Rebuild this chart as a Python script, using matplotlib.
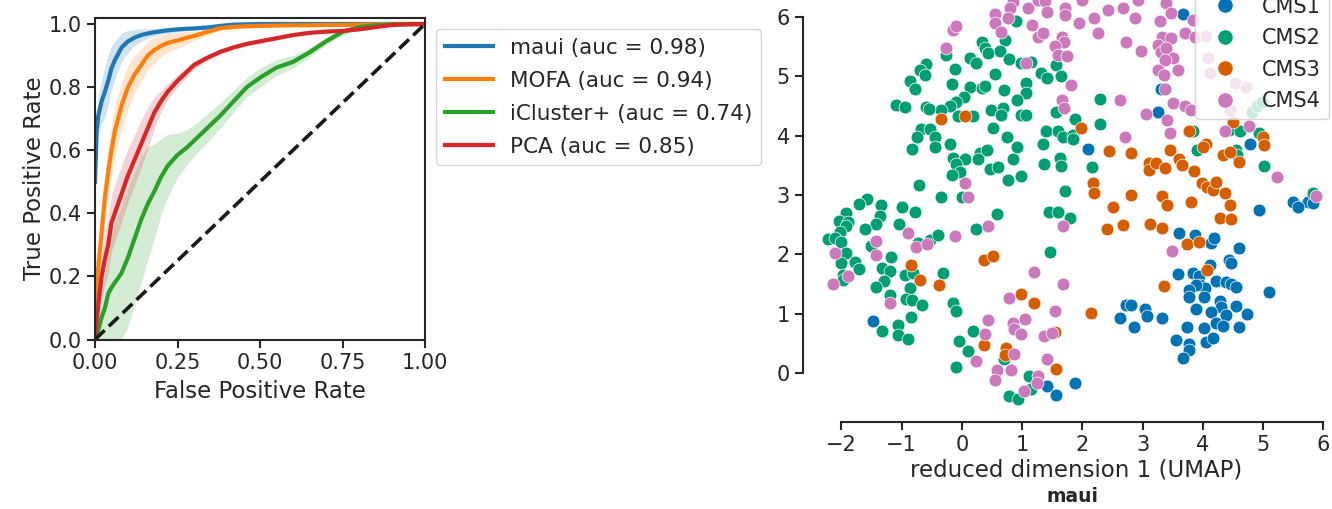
import matplotlib
matplotlib.use('Agg')
import matplotlib.pyplot as plt
from matplotlib.lines import Line2D
import numpy as np

# ---- ROC data (mean curve and spread) ----
fpr = [0.0, 0.005, 0.01, 0.02, 0.03, 0.04, 0.05, 0.06,
       0.08, 0.10, 0.12, 0.14, 0.16, 0.18, 0.20, 0.22,
       0.25, 0.28, 0.30, 0.34, 0.38, 0.42, 0.46, 0.50,
       0.55, 0.60, 0.65, 0.70, 0.75, 0.80, 0.85, 0.90,
       0.95, 1.0]

maui_tpr = [0.50, 0.66, 0.71, 0.755, 0.785, 0.82, 0.86, 0.885,
            0.925, 0.945, 0.957, 0.965, 0.970, 0.974, 0.977, 0.980,
            0.983, 0.985, 0.986, 0.989, 0.994, 0.998, 0.999, 1.0,
            1.0, 1.0, 1.0, 1.0, 1.0, 1.0, 1.0, 1.0,
            1.0, 1.0]
maui_std = [0.0, 0.04, 0.06, 0.07, 0.08, 0.08, 0.07, 0.06,
            0.045, 0.035, 0.025, 0.02, 0.015, 0.012, 0.01, 0.01,
            0.008, 0.006, 0.005, 0.004, 0.003, 0.002, 0.002, 0.001,
            0.001, 0.0, 0.0, 0.0, 0.0, 0.0, 0.0, 0.0,
            0.0, 0.0]

mofa_tpr = [0.10, 0.16, 0.23, 0.34, 0.45, 0.53, 0.60, 0.66,
            0.74, 0.80, 0.84, 0.87, 0.90, 0.918, 0.93, 0.94,
            0.948, 0.957, 0.962, 0.975, 0.987, 0.991, 0.993, 0.994,
            0.995, 0.996, 0.996, 0.997, 0.997, 0.998, 0.999, 1.0,
            1.0, 1.0]
mofa_std = [0.04, 0.06, 0.07, 0.08, 0.08, 0.08, 0.08, 0.08,
            0.075, 0.07, 0.06, 0.05, 0.045, 0.04, 0.035, 0.03,
            0.025, 0.02, 0.015, 0.01, 0.008, 0.006, 0.005, 0.005,
            0.004, 0.004, 0.003, 0.003, 0.002, 0.002, 0.001, 0.0,
            0.0, 0.0]

icluster_tpr = [0.0, 0.01, 0.03, 0.07, 0.10, 0.145, 0.165, 0.18,
                0.21, 0.26, 0.32, 0.38, 0.43, 0.47, 0.515, 0.55,
                0.585, 0.61, 0.63, 0.67, 0.71, 0.755, 0.80, 0.83,
                0.862, 0.88, 0.91, 0.945, 0.975, 0.99, 0.996, 0.999,
                1.0, 1.0]
icluster_std = [0.0, 0.02, 0.04, 0.07, 0.11, 0.15, 0.17, 0.19,
                0.21, 0.22, 0.21, 0.20, 0.18, 0.15, 0.12, 0.10,
                0.07, 0.055, 0.05, 0.045, 0.04, 0.035, 0.03, 0.03,
                0.025, 0.02, 0.015, 0.012, 0.01, 0.008, 0.005, 0.003,
                0.002, 0.0]

pca_tpr = [0.0, 0.06, 0.11, 0.20, 0.255, 0.30, 0.37, 0.40,
           0.46, 0.52, 0.57, 0.62, 0.67, 0.72, 0.755, 0.785,
           0.82, 0.85, 0.87, 0.893, 0.912, 0.926, 0.937, 0.945,
           0.955, 0.965, 0.972, 0.976, 0.978, 0.983, 0.99, 0.997,
           0.999, 1.0]
pca_std = [0.0, 0.03, 0.05, 0.07, 0.08, 0.09, 0.09, 0.09,
           0.09, 0.085, 0.08, 0.075, 0.065, 0.05, 0.035, 0.025,
           0.02, 0.015, 0.012, 0.01, 0.008, 0.008, 0.007, 0.007,
           0.006, 0.006, 0.005, 0.005, 0.004, 0.004, 0.003, 0.003,
           0.002, 0.0]

roc_labels = ['maui (auc = 0.98)', 'MOFA (auc = 0.94)',
              'iCluster+ (auc = 0.74)', 'PCA (auc = 0.85)']
roc_colors = ['#1f77b4', '#ff7f0e', '#2ca02c', '#d62728']

# ---- UMAP embedding, one list of (x, y) per subtype ----
cms1_points = [
    (-1.48, 0.88), (2.09, 3.77), (3.67, 6.05), (3.30, 4.78), (3.25, 4.39),
    (4.78, 3.86), (5.50, 2.89), (5.75, 2.89), (5.83, 2.86), (5.58, 2.80),
    (4.93, 2.74), (1.41, -0.21), (1.57, -0.37), (1.88, -0.17),
    (2.73, 1.15), (2.80, 1.15), (3.04, 1.08), (3.08, 0.96), (2.63, 0.93),
    (2.85, 0.78), (3.60, 2.36), (3.87, 2.33), (4.14, 2.20), (4.18, 2.27),
    (4.60, 2.11), (4.43, 1.91), (4.47, 1.85), (4.12, 1.82), (3.59, 1.67),
    (3.84, 1.68), (3.94, 1.63), (3.95, 1.49), (4.03, 1.43), (3.89, 1.49),
    (3.77, 1.41), (3.77, 1.29), (4.02, 1.28), (4.22, 1.55), (4.39, 1.54),
    (4.47, 1.51), (4.55, 1.46), (5.10, 1.36), (4.28, 1.22), (4.30, 1.11),
    (4.55, 1.14), (4.74, 0.99), (3.89, 1.08), (4.13, 1.03), (4.39, 0.98),
    (3.32, 0.93), (3.73, 0.78), (4.02, 0.76), (4.22, 0.84), (4.33, 0.80),
    (4.60, 0.78), (3.56, 0.56), (3.77, 0.49), (3.77, 0.39), (4.05, 0.52),
    (4.17, 0.59), (3.67, 0.25),
]
cms2_points = [
    (-0.27, 5.36), (0.13, 5.30), (0.23, 5.22), (-0.60, 5.20), (-0.69, 5.10),
    (-0.61, 5.02), (-0.12, 5.12), (-0.86, 4.91), (-0.77, 4.78), (-0.16, 4.86),
    (0.13, 4.82), (0.04, 4.65), (-0.10, 4.57), (-0.20, 4.50), (-0.34, 4.43),
    (-1.10, 4.51), (-0.95, 4.48), (-0.60, 4.48), (-0.54, 4.44), (-0.06, 4.33),
    (0.19, 4.33), (-0.67, 4.11), (-0.53, 4.11), (-0.75, 3.98), (-0.45, 3.98),
    (-0.82, 3.77), (-0.45, 3.81), (-0.20, 3.86), (-0.15, 3.63), (0.05, 3.60),
    (-0.09, 3.52), (-0.03, 3.38), (-0.17, 3.34), (-0.71, 3.16), (-0.34, 2.97),
    (0.00, 2.97), (-1.58, 2.94), (-1.70, 2.85), (-1.34, 2.83), (-1.00, 2.80),
    (-0.78, 2.71), (-1.93, 2.69), (-1.36, 2.64), (-2.04, 2.56), (-1.89, 2.55),
    (-1.42, 2.52), (-1.05, 2.51), (-1.92, 2.47), (-1.61, 2.43), (-2.02, 2.38),
    (0.23, 2.43), (-2.22, 2.26), (-2.11, 2.27), (-2.00, 2.21), (-1.51, 2.15),
    (-0.73, 2.20), (-0.53, 2.24), (-0.40, 2.33), (-1.92, 2.02), (-1.18, 1.95),
    (-2.00, 1.85), (-1.78, 1.88), (-1.70, 1.75), (-1.33, 1.77), (-1.20, 1.72),
    (-0.95, 1.65), (-0.81, 1.68), (-0.31, 1.69), (-1.97, 1.65), (-1.97, 1.57),
    (-1.29, 1.55), (-1.43, 1.46), (-0.86, 1.43), (-1.20, 1.32), (-0.92, 1.25),
    (-0.83, 1.23), (-0.66, 1.15), (-0.15, 1.18), (-0.09, 1.05), (-0.85, 0.94),
    (-1.06, 0.82), (-1.33, 0.71), (-1.06, 0.64), (-0.90, 0.58), (0.19, 0.72),
    (-0.04, 0.54), (0.10, 0.38), (-0.10, 0.10),
    (0.33, 5.58), (0.71, 5.60), (0.38, 5.47), (0.44, 5.38), (0.63, 5.43),
    (0.90, 5.92), (0.79, 5.29), (0.99, 5.22), (1.14, 5.23), (1.57, 5.19),
    (0.55, 5.03), (1.32, 5.06), (1.41, 4.96), (1.64, 5.00), (0.33, 4.80),
    (0.38, 4.83), (0.70, 4.77), (1.07, 4.88), (1.06, 4.71), (0.91, 4.60),
    (2.30, 4.61), (0.49, 4.43), (0.68, 4.47), (0.65, 4.35), (0.99, 4.35),
    (1.07, 4.35), (1.56, 4.39), (1.88, 4.27), (2.30, 4.19), (0.52, 4.12),
    (1.39, 4.08), (1.59, 4.07), (1.68, 3.98), (1.85, 4.01), (1.85, 3.94),
    (0.75, 3.98), (0.92, 3.81), (1.34, 3.86), (0.30, 3.70), (0.27, 3.60),
    (0.41, 3.75), (0.85, 3.61), (1.63, 3.63), (1.64, 3.48), (1.36, 3.52),
    (0.46, 3.44), (0.60, 3.47), (2.16, 3.47), (0.99, 3.32), (0.77, 3.25),
    (1.71, 3.06),
    (0.59, 2.68), (1.44, 2.71), (1.60, 2.72), (1.79, 2.62), (1.47, 2.04),
    (0.70, 0.24), (1.11, -0.04), (1.15, -0.26), (0.79, -0.38), (0.94, -0.44),
    (4.81, 4.40), (4.90, 4.49), (4.98, 4.57), (4.43, 4.09), (4.62, 4.07),
    (4.93, 4.04), (3.84, 4.07), (3.91, 3.76), (4.55, 3.76), (4.57, 3.67),
    (5.01, 3.48), (5.83, 3.03),
]
cms3_points = [
    (-0.35, 4.28), (0.06, 4.33), (1.98, 4.13), (2.45, 3.74), (2.81, 3.71),
    (3.11, 3.53), (3.10, 3.42), (2.17, 3.21), (2.20, 3.04), (2.80, 3.00),
    (2.51, 2.79), (2.41, 2.43), (2.68, 2.50), (3.13, 2.51), (0.37, 1.91),
    (0.52, 1.98), (0.98, 1.33), (1.20, 1.19), (2.15, 1.02), (1.55, 0.69),
    (0.37, 0.48), (0.74, 0.42), (0.71, 0.30), (1.57, 0.08), (-0.85, 1.83),
    (-0.69, 1.57), (-0.38, 1.49),
    (4.50, 4.22), (5.00, 3.97), (5.01, 3.84), (3.77, 4.08), (4.06, 3.86),
    (4.01, 3.81), (4.33, 3.67), (4.45, 3.73), (4.60, 3.56), (3.45, 3.75),
    (3.61, 3.60), (3.65, 3.50), (3.23, 3.54), (3.38, 3.45), (3.86, 3.41),
    (3.98, 3.21), (4.07, 3.14), (4.17, 3.08), (4.22, 3.22), (4.37, 3.03),
    (3.32, 2.98), (3.40, 2.83), (3.81, 2.89), (4.45, 2.83), (3.32, 2.44),
    (4.28, 2.61), (4.47, 2.60), (3.74, 2.18), (3.94, 2.21), (4.07, 1.73),
    (3.35, 1.47),
]
cms4_points = [
    (-0.14, 5.78), (-0.09, 5.84), (-0.27, 5.47), (0.06, 3.21), (0.10, 2.97),
    (-0.89, 2.36), (-0.12, 2.31), (-1.42, 2.23), (-0.76, 2.12), (-0.57, 2.17),
    (-2.10, 2.02), (-1.42, 1.99), (-1.89, 1.63), (-2.13, 1.50), (-1.19, 1.19),
    (0.24, 0.20),
    (0.85, 6.25), (0.80, 6.14), (1.10, 6.14), (1.27, 6.28), (1.38, 6.27),
    (1.71, 6.14), (1.71, 6.03), (1.41, 6.08), (1.99, 6.28), (2.42, 6.12),
    (2.67, 6.14), (2.92, 6.28), (2.88, 5.97), (2.19, 5.97), (1.94, 5.90),
    (0.55, 6.05), (0.55, 5.89), (0.77, 5.97), (0.65, 5.75), (1.17, 5.86),
    (2.26, 5.73), (1.26, 5.66), (1.34, 5.72), (1.66, 5.65), (1.70, 5.58),
    (1.54, 5.51), (1.60, 5.36), (1.75, 5.33), (2.72, 5.58), (2.98, 5.42),
    (1.07, 5.22), (1.82, 4.85), (1.67, 4.60), (1.70, 4.47), (2.63, 4.60),
    (3.05, 4.36), (2.70, 3.98),
    (1.68, 2.48), (0.43, 2.47), (1.20, 1.71), (1.68, 1.50), (0.78, 1.26),
    (1.54, 1.05), (0.44, 0.89), (0.85, 0.84), (0.87, 0.75), (0.98, 0.66),
    (1.05, 0.91), (0.39, 0.66), (1.37, 0.62), (1.49, 0.68), (0.86, 0.32),
    (1.42, 0.24), (0.58, 0.06), (0.55, -0.11), (0.81, 0.06), (1.27, -0.04),
    (1.24, -0.17), (1.04, -0.30),
    (3.39, 6.23), (3.47, 6.06), (3.29, 5.93), (3.83, 5.95), (3.70, 5.72),
    (3.87, 5.65), (4.06, 5.68), (3.32, 5.65), (3.47, 5.64), (3.25, 5.52),
    (3.31, 5.41), (3.39, 5.47), (3.50, 5.30), (3.38, 5.27), (4.09, 5.30),
    (3.25, 5.11), (3.36, 5.02), (3.58, 5.10), (4.12, 5.06), (4.53, 4.88),
    (4.71, 4.82), (3.38, 4.78), (3.51, 4.55), (3.70, 4.50), (3.81, 4.43),
    (4.45, 4.43), (3.41, 4.26), (4.77, 4.16), (4.37, 4.07), (3.46, 4.04),
    (5.23, 3.30), (5.88, 2.98), (3.48, 2.05),
]
cms_labels = ['CMS1', 'CMS2', 'CMS3', 'CMS4']
cms_colors = ['#0173b2', '#029e73', '#d55e00', '#cc78bc']

ink = '#262626'
plt.rcParams.update({
    'font.family': 'DejaVu Sans',
    'text.color': ink,
    'axes.labelcolor': ink,
    'axes.edgecolor': ink,
    'xtick.color': ink,
    'ytick.color': ink,
})

W, H = 1332, 509
fig = plt.figure(figsize=(W / 100, H / 100), dpi=100)


def px_box(left, top, right, bottom):
    # axes rectangle given in pixels of the final picture
    return [left / W, 1 - bottom / H, (right - left) / W, (bottom - top) / H]


# ---------------- left: ROC curves ----------------
ax1 = fig.add_axes(px_box(95, 17.7, 425, 339.5))
curves = [(maui_tpr, maui_std), (mofa_tpr, mofa_std),
          (icluster_tpr, icluster_std), (pca_tpr, pca_std)]
x = np.array(fpr)
for (tpr, std), label, color in zip(curves, roc_labels, roc_colors):
    tpr = np.array(tpr)
    std = np.array(std)
    ax1.fill_between(x, np.clip(tpr - std, 0, 1), np.clip(tpr + std, 0, 1),
                     color=color, alpha=0.2, linewidth=0)
    ax1.plot(x, tpr, color=color, lw=3, label=label)
ax1.plot([0, 1], [0, 1], '--', color='#1a1a1a', lw=2.6)

ax1.set_xlim(0, 1)
ax1.set_ylim(0, 1.02)
ax1.set_xticks([0, 0.25, 0.5, 0.75, 1.0])
ax1.set_yticks([0, 0.2, 0.4, 0.6, 0.8, 1.0])
ax1.set_xlabel('False Positive Rate', fontsize=16.5, labelpad=5)
ax1.set_ylabel('True Positive Rate', fontsize=16.5, labelpad=2)
ax1.tick_params(length=6, width=1.5, labelsize=15)
for spine in ax1.spines.values():
    spine.set_linewidth(1.5)
ax1.legend(loc='upper left', bbox_to_anchor=(436 / W, 1 - 29.3 / H),
           bbox_transform=fig.transFigure, borderaxespad=0, fontsize=15.5,
           handlelength=2.25, labelspacing=0.6)

# ---------------- right: UMAP scatter ----------------
ax2 = fig.add_axes(px_box(816, -22, 1336, 409))
for points, label, color in zip([cms1_points, cms2_points, cms3_points, cms4_points],
                                cms_labels, cms_colors):
    pts = np.array(points)
    ax2.scatter(pts[:, 0], pts[:, 1], s=85, color=color, edgecolor='white',
                linewidth=0.5, label=label)

ax2.set_xlim(-2.42, 6.21)
ax2.set_ylim(-0.6, 6.65)
ax2.set_xticks(range(-2, 7))
ax2.set_yticks(range(0, 7))
ax2.spines['top'].set_visible(False)
ax2.spines['right'].set_visible(False)
ax2.spines['left'].set_position(('outward', 9.4))
ax2.spines['bottom'].set_position(('outward', 9.4))
ax2.spines['left'].set_bounds(0, 6)
ax2.spines['bottom'].set_bounds(-2, 6)
for side in ['left', 'bottom']:
    ax2.spines[side].set_linewidth(1.5)
ax2.tick_params(length=6, width=1.5, labelsize=15)
ax2.set_xlabel('reduced dimension 1 (UMAP)', fontsize=16.5, labelpad=2)

handles = [Line2D([], [], marker='o', linestyle='', markersize=11,
                  markerfacecolor=c, markeredgecolor='white', markeredgewidth=0.5)
           for c in cms_colors]
ax2.legend(handles, cms_labels, loc='lower right',
           bbox_to_anchor=(1329.3 / W, 1 - 119.3 / H),
           bbox_transform=fig.transFigure, borderaxespad=0, fontsize=15,
           handlelength=2, labelspacing=0.55)

fig.text(1072 / W, 1 - 497 / H, 'maui', fontsize=13.5, fontweight='bold',
         ha='center', va='center')

fig.savefig('out.png', dpi=100)
